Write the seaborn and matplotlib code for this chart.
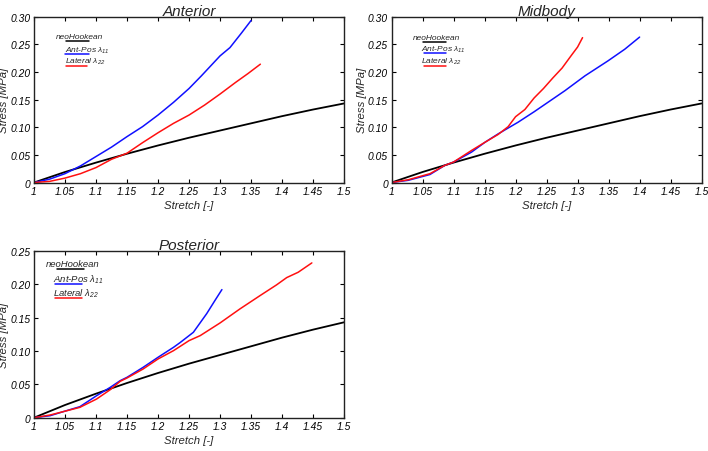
import numpy as np
import pandas as pd
import matplotlib
matplotlib.use("Agg")
import matplotlib.pyplot as plt
import seaborn as sns

sns.set_style("ticks")
plt.rcParams['font.family'] = ['Liberation Sans', 'DejaVu Sans']
plt.rcParams['font.style'] = 'italic'
plt.rcParams['mathtext.fontset'] = 'custom'
plt.rcParams['mathtext.it'] = 'Liberation Sans:italic'
plt.rcParams['mathtext.rm'] = 'Liberation Sans:italic'

# neoHookean model (same in all three panels)
neo_x = [1.0, 1.05, 1.1, 1.15, 1.2, 1.25, 1.3, 1.35, 1.4, 1.45, 1.5]
neo_y = [0.0, 0.019, 0.036, 0.052, 0.067, 0.081, 0.094, 0.107, 0.120, 0.132, 0.143]

# Anterior
ant_ap_x = [1.0, 1.025, 1.05, 1.075, 1.1, 1.125, 1.15, 1.175, 1.2, 1.225, 1.25, 1.27, 1.3, 1.316, 1.335, 1.35]
ant_ap_y = [0.0, 0.006, 0.016, 0.030, 0.047, 0.064, 0.083, 0.101, 0.122, 0.145, 0.170, 0.193, 0.229, 0.244, 0.271, 0.293]
ant_lat_x = [1.0, 1.025, 1.05, 1.075, 1.1, 1.125, 1.15, 1.175, 1.2, 1.225, 1.25, 1.275, 1.3, 1.325, 1.345, 1.365]
ant_lat_y = [0.0, 0.002, 0.008, 0.016, 0.027, 0.042, 0.053, 0.072, 0.090, 0.107, 0.122, 0.140, 0.160, 0.181, 0.197, 0.214]

# Midbody
mid_ap_x = [1.0, 1.027, 1.062, 1.086, 1.1, 1.129, 1.151, 1.172, 1.204, 1.23, 1.2795, 1.312, 1.349, 1.376, 1.4]
mid_ap_y = [0.0, 0.004, 0.0145, 0.031, 0.037, 0.055, 0.073, 0.088, 0.109, 0.128, 0.166, 0.193, 0.220, 0.241, 0.263]
mid_lat_x = [1.0, 1.027, 1.062, 1.086, 1.1, 1.129, 1.151, 1.172, 1.188, 1.2, 1.215, 1.23, 1.245, 1.26, 1.275, 1.29, 1.30, 1.308]
mid_lat_y = [0.0, 0.005, 0.016, 0.031, 0.037, 0.058, 0.073, 0.087, 0.101, 0.119, 0.132, 0.153, 0.170, 0.189, 0.207, 0.230, 0.245, 0.262]

# Posterior
post_ap_x = [1.0, 1.026, 1.047, 1.074, 1.101, 1.123, 1.139, 1.15, 1.176, 1.2, 1.225, 1.2355, 1.257, 1.2785, 1.292, 1.303]
post_ap_y = [0.0, 0.003, 0.009, 0.0165, 0.033, 0.0455, 0.0555, 0.0605, 0.0755, 0.0905, 0.1055, 0.1125, 0.128, 0.156, 0.176, 0.192]
post_lat_x = [1.0, 1.026, 1.047, 1.074, 1.101, 1.123, 1.139, 1.15, 1.176, 1.2, 1.225, 1.25, 1.268, 1.3, 1.332, 1.3645, 1.391, 1.4075, 1.426, 1.448]
post_lat_y = [0.0, 0.004, 0.009, 0.0155, 0.028, 0.042, 0.0545, 0.0595, 0.073, 0.088, 0.1005, 0.1155, 0.123, 0.142, 0.163, 0.183, 0.199, 0.210, 0.218, 0.232]

x_ticks = [1, 1.05, 1.1, 1.15, 1.2, 1.25, 1.3, 1.35, 1.4, 1.45, 1.5]
x_ticklabels = ["1", "1.05", "1.1", "1.15", "1.2", "1.25", "1.3", "1.35", "1.4", "1.45", "1.5"]

fig = plt.figure(figsize=(7.08, 4.52), dpi=100)

panels = [
    ("Anterior", [0.048, 0.594, 0.438, 0.367], ant_ap_x, ant_ap_y, ant_lat_x, ant_lat_y, 0.30,
     dict(nx=0.148, ny=0.881, nl=(0.103, 0.177, 0.851), tx=0.10, ay=0.80, al=(0.10, 0.177, 0.774),
          ly=0.734, ll=(0.103, 0.172, 0.70), fs=6)),
    ("Midbody", [0.553, 0.594, 0.438, 0.367], mid_ap_x, mid_ap_y, mid_lat_x, mid_lat_y, 0.30,
     dict(nx=0.145, ny=0.875, nl=(0.102, 0.177, 0.848), tx=0.095, ay=0.804, al=(0.105, 0.177, 0.778),
          ly=0.734, ll=(0.105, 0.177, 0.70), fs=6)),
    ("Posterior", [0.048, 0.0737, 0.438, 0.369], post_ap_x, post_ap_y, post_lat_x, post_lat_y, 0.25,
     dict(nx=0.126, ny=0.922, nl=(0.073, 0.16, 0.892), tx=0.061, ay=0.832, al=(0.068, 0.156, 0.802),
          ly=0.752, ll=(0.068, 0.156, 0.718), fs=6.8)),
]

for title, pos, apx, apy, latx, laty, ymax, lg in panels:
    ax = fig.add_axes(pos)
    sns.lineplot(x=neo_x, y=neo_y, ax=ax, color="black", lw=1.3, sort=False)
    sns.lineplot(x=apx, y=apy, ax=ax, color="#1010ff", lw=1.1, sort=False)
    sns.lineplot(x=latx, y=laty, ax=ax, color="#ff1010", lw=1.1, sort=False)
    ax.set_xlim(1, 1.5)
    ax.set_ylim(0, ymax)
    ax.set_xticks(x_ticks)
    ax.set_xticklabels(x_ticklabels, fontstyle="italic")
    yt = np.arange(0, ymax + 0.001, 0.05)
    ax.set_yticks(yt)
    ax.set_yticklabels(["0"] + ["%.2f" % v for v in yt[1:]], fontstyle="italic")
    ax.tick_params(direction="in", top=True, right=True, length=3, width=0.8,
                   labelsize=7.4, pad=2.5, colors="black")
    for s in ax.spines.values():
        s.set_linewidth(1.0)
        s.set_color("#222222")
    ax.set_xlabel("Stretch [-]", fontsize=8.2, style="italic", labelpad=3)
    ax.set_ylabel("Stress [MPa]", fontsize=8.2, style="italic", labelpad=1)
    ax.set_title(title, fontsize=11, style="italic", pad=1.5)

    # legend drawn as text with a short line underneath
    fs = lg["fs"]
    ax.text(lg["nx"], lg["ny"], "neoHookean", transform=ax.transAxes, ha="center", va="center",
            fontsize=fs, style="italic")
    ax.plot(lg["nl"][:2], [lg["nl"][2]] * 2, transform=ax.transAxes, color="black", lw=1.1)
    ax.text(lg["tx"], lg["ay"], r"Ant-Pos $\lambda_{11}$", transform=ax.transAxes, ha="left",
            va="center", fontsize=fs, style="italic")
    ax.plot(lg["al"][:2], [lg["al"][2]] * 2, transform=ax.transAxes, color="#1010ff", lw=1.1)
    ax.text(lg["tx"], lg["ly"], r"Lateral $\lambda_{22}$", transform=ax.transAxes, ha="left",
            va="center", fontsize=fs, style="italic")
    ax.plot(lg["ll"][:2], [lg["ll"][2]] * 2, transform=ax.transAxes, color="#ff1010", lw=1.1)

fig.savefig("out.png", dpi=100)
